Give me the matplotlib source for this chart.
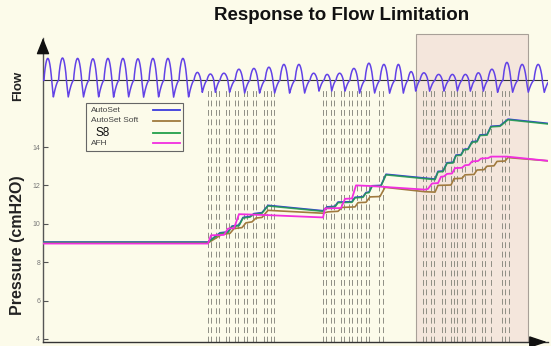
import numpy as np
import matplotlib
matplotlib.use("Agg")
import matplotlib.pyplot as plt
from matplotlib.patches import Rectangle
from matplotlib.lines import Line2D

plt.rcParams['font.family'] = ['Liberation Sans', 'DejaVu Sans']
plt.rcParams['lines.scale_dashes'] = False

# ---------------- data ----------------
# Flow trace: breath onsets (s), inspiratory peak and expiratory trough (L/s)
breath_onset = [0.25, 3.9, 7.65, 11.5, 15.25, 19.0, 22.75, 26.5, 30.25, 34.0,
                37.75, 41.0, 44.25, 48.0, 51.75, 55.5, 59.25, 63.0, 66.75, 70.25,
                73.25, 76.75, 80.5, 84.25, 88.0, 91.25, 94.25, 98.0, 101.5, 104.75,
                108.0, 111.25, 115.0, 118.75, 122.75]
breath_peak = [0.55, 0.56, 0.55, 0.54, 0.55, 0.55, 0.54, 0.55, 0.55, 0.55,
               0.20, 0.16, 0.18, 0.28, 0.30, 0.33, 0.40, 0.40, 0.18, 0.15,
               0.18, 0.30, 0.43, 0.40, 0.40, 0.22, 0.19, 0.15, 0.15, 0.15,
               0.19, 0.28, 0.45, 0.40, 0.40]
breath_trough = [-0.42, -0.42, -0.42, -0.42, -0.42, -0.42, -0.42, -0.42, -0.42, -0.42,
                 -0.30, -0.30, -0.30, -0.32, -0.32, -0.32, -0.32, -0.32, -0.27, -0.27,
                 -0.27, -0.32, -0.32, -0.32, -0.32, -0.27, -0.27, -0.27, -0.27, -0.27,
                 -0.27, -0.30, -0.30, -0.30, -0.30]

# Pressure responses (cmH2O) for each device
s8_t = [0, 41.25, 44.25, 46.25, 47.25, 49, 50, 51.75, 52.75, 54.75,
        56.25, 70, 71, 73, 73.75, 77.25, 78, 80, 80.75, 81.5,
        82.25, 84.5, 85.75, 98, 98.75, 100, 101, 102.5, 103.25, 104.5,
        105.25, 106.25, 107.25, 108.5, 109.25, 111, 112, 114.25, 116.25, 126.25]
s8_p = [9.03, 9.03, 9.5, 9.55, 9.85, 9.9, 10.3, 10.35, 10.5, 10.55,
        10.93, 10.65, 10.85, 10.88, 11.1, 11.12, 11.35, 11.38, 11.6, 11.62,
        11.95, 11.97, 12.55, 12.3, 12.7, 12.72, 13.15, 13.17, 13.55, 13.57,
        13.85, 13.87, 14.25, 14.27, 14.6, 14.62, 15.05, 15.08, 15.42, 15.2]
autoset_p = [9.05, 9.05, 9.53, 9.58, 9.88, 9.93, 10.33, 10.38, 10.53, 10.58,
             10.96, 10.68, 10.88, 10.91, 11.13, 11.15, 11.38, 11.41, 11.63, 11.65,
             11.98, 12.0, 12.58, 12.33, 12.73, 12.75, 13.18, 13.2, 13.58, 13.6,
             13.88, 13.9, 14.28, 14.3, 14.63, 14.65, 15.08, 15.11, 15.45, 15.23]

afh_t = [0, 41.25, 42, 45.25, 46.25, 47.75, 49, 56.25, 70, 70.5,
         74.5, 75.5, 77.25, 78.25, 81.75, 95.5, 96.25, 97.25, 98.75, 99.5,
         100.25, 101, 102.25, 103, 104.75, 105.5, 106.5, 107.25, 108.75, 109.5,
         111.25, 112, 116, 126.25]
afh_p = [8.97, 8.97, 9.4, 9.42, 9.75, 9.77, 10.5, 10.45, 10.33, 10.8,
         10.82, 11.3, 11.32, 12.0, 11.97, 11.78, 11.82, 12.1, 12.12, 12.45,
         12.47, 12.6, 12.62, 12.9, 12.92, 13.05, 13.07, 13.25, 13.27, 13.4,
         13.42, 13.5, 13.5, 13.28]

soft_t = [0, 41.25, 44.75, 46.75, 47.75, 49.75, 50.75, 52.25, 53.25, 54.75,
          56.25, 70, 71.25, 73.75, 74.75, 78, 78.75, 80.75, 81.75, 84.25,
          85.5, 95.5, 98, 98.75, 102, 102.75, 104.75, 105.5, 107.75, 108.5,
          110.25, 111, 112.75, 113.5, 115.5, 116.25, 126.25]
soft_p = [9.0, 9.0, 9.45, 9.5, 9.75, 9.8, 10.05, 10.1, 10.3, 10.33,
          10.7, 10.55, 10.62, 10.65, 10.85, 10.88, 11.1, 11.12, 11.4, 11.42,
          11.9, 11.67, 11.65, 12.0, 12.02, 12.35, 12.37, 12.55, 12.57, 12.8,
          12.82, 13.0, 13.02, 13.25, 13.27, 13.45, 13.28]

# Flow-limitation event markers (s)
events = [41.25, 42, 43.25, 44, 45.75, 46.5, 48, 48.75, 50.25, 51, 52.5, 53.25,
          55.25, 56, 57, 57.75,
          70, 70.75, 72, 72.75, 74.5, 75.25, 76.5, 77.25, 78.5, 79.5, 80.75,
          81.5, 84, 85,
          95, 95.75, 97, 97.75, 99.75, 100.5, 102, 102.75, 103.5, 104.75, 105.5,
          107.25, 108, 109.75, 110.5, 112, 114.75, 115.5, 116.5]

highlight = (93.25, 121.25)
pressure_ticks = [4, 6, 8, 10, 12, 14]

labels = ['AutoSet', 'AutoSet Soft', 'S8', 'AFH']
colors = ['#3b3bdc', '#a07a3e', '#22a04a', '#f22ee0']

# ---------------- figure ----------------
BG = '#fcfbea'
T_END = 126.25
fig = plt.figure(figsize=(5.51, 3.46), dpi=100, facecolor=BG)
L, R = 43 / 551, 548 / 551
B, T = (346 - 342) / 346, (346 - 38) / 346
ax = fig.add_axes([L, B, R - L, T - B])
ax.set_facecolor(BG)
ax.set_xlim(0, T_END)
ax.set_ylim(3.84, 19.68)

# shaded observation window
ax.axvspan(*highlight, ymin=0, ymax=1.013, facecolor='#f4e6dc',
           edgecolor='#a8a098', lw=0.8, clip_on=False, zorder=0)

# event markers
ax.vlines(events, 3.84, 17.0, colors='#8e8e84', lw=0.7,
          linestyles=[(0, (4.2, 2.6))], zorder=1)

# pressure traces
ax.plot(s8_t, autoset_p, color=colors[0], lw=1.2, zorder=3)
ax.plot(soft_t, soft_p, color=colors[1], lw=1.2, zorder=3)
ax.plot(s8_t, s8_p, color=colors[2], lw=1.2, alpha=0.85, zorder=4)
ax.plot(afh_t, afh_p, color=colors[3], lw=1.3, zorder=5)

# axes styling
for side in ('top', 'right'):
    ax.spines[side].set_visible(False)
ax.spines['left'].set_color('#555555')
ax.spines['left'].set_linewidth(1.0)
ax.spines['bottom'].set_color('#333333')
ax.spines['bottom'].set_linewidth(1.0)
ax.set_xticks([])
ax.set_yticks(pressure_ticks)
ax.set_yticklabels([str(v) for v in pressure_ticks])
ax.tick_params(axis='y', direction='in', length=3.6, width=0.8, color='#555555',
               labelsize=5, labelcolor='#777777', pad=2)

# axis arrows
ax.annotate('', xy=(0, 1.0), xytext=(0, 0.955), xycoords='axes fraction',
            arrowprops=dict(arrowstyle='-|>,head_length=0.55,head_width=0.22',
                            mutation_scale=18, color='#111111', lw=1.0,
                            shrinkA=0, shrinkB=0))
ax.annotate('', xy=(0.998, 0), xytext=(0.965, 0), xycoords='axes fraction',
            arrowprops=dict(arrowstyle='-|>,head_length=0.6,head_width=0.2',
                            mutation_scale=18, color='#111111', lw=1.0,
                            shrinkA=0, shrinkB=0))

# flow trace on its own scale
axf = ax.twinx()
axf.set_ylim(-6.54, 1.06)
axf.patch.set_visible(False)
for s in axf.spines.values():
    s.set_visible(False)
axf.set_yticks([])


def breath_shape(p, peak, trough):
    y = np.zeros_like(p)
    insp = p < 0.52
    y[insp] = peak * np.sin(np.pi * p[insp] / 0.52) ** 0.75
    drop = (p >= 0.52) & (p < 0.64)
    y[drop] = trough * (p[drop] - 0.52) / 0.12
    rec = p >= 0.64
    y[rec] = trough * (1 - (p[rec] - 0.64) / 0.36) ** 1.6
    return y


onsets = np.array(breath_onset)
periods = np.diff(np.append(onsets, onsets[-1] + (onsets[-1] - onsets[-2])))
t = np.linspace(0, T_END, 5000)
flow = np.zeros_like(t)
for o, P, pk, tr in zip(onsets, periods, breath_peak, breath_trough):
    p = (t - o) / P
    m = (p >= 0) & (p < 1)
    flow[m] = breath_shape(p[m], pk, tr)

axf.axhline(0, color='#333333', lw=0.8, zorder=1)
axf.plot(t, flow, color='#6242e6', lw=1.1, zorder=2)

# legend box
tr_ax = ax.transAxes
ax.add_patch(Rectangle((0.085, 0.628), 0.192, 0.158, transform=tr_ax,
                       facecolor=BG, edgecolor='#666666', lw=0.8, zorder=6))
rows_y = [0.763, 0.727, 0.6875, 0.6546]
for lab, col, yy in zip(labels, colors, rows_y):
    if lab == 'S8':
        ax.text(0.103, yy, lab, transform=tr_ax, fontsize=8.5, color='#111111',
                va='center', ha='left', zorder=7)
    else:
        ax.text(0.095, yy, lab, transform=tr_ax, fontsize=6, color='#444444',
                va='center', ha='left', zorder=7)
    ax.add_line(Line2D([0.218, 0.271], [yy, yy], transform=tr_ax, color=col,
                       lw=1.3, zorder=7))

# titles and axis labels
fig.text(342 / 551, 1 - 16 / 346, 'Response to Flow Limitation', ha='center',
         va='center', fontsize=13.5, fontweight='bold', color='#111111')
fig.text(18 / 551, 1 - 86 / 346, 'Flow', rotation=90, ha='center', va='center',
         fontsize=9.5, fontweight='bold', color='#222222')
fig.text(18 / 551, 1 - 245 / 346, 'Pressure (cmH2O)', rotation=90, ha='center',
         va='center', fontsize=11.5, fontweight='bold', color='#222222')

fig.savefig('out.png', dpi=100, facecolor=BG)
